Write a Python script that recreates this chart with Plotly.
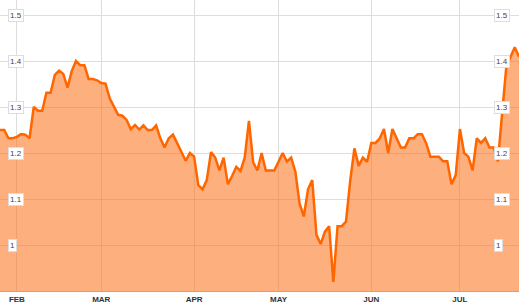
import pandas as pd
import plotly.graph_objects as go

# Trading days (NYSE 2012) shown on the chart
holidays = ["2012-02-20", "2012-04-06", "2012-05-28", "2012-07-04"]
dates = [d.strftime("%Y-%m-%d") for d in
         pd.bdate_range("2012-01-26", "2012-07-23", freq="C", holidays=holidays)]

values = [
    1.250, 1.250, 1.232, 1.232, 1.235, 1.241, 1.240, 1.232, 1.300, 1.292,
    1.292, 1.331, 1.331, 1.370, 1.379, 1.372, 1.342, 1.378, 1.400, 1.391,
    1.391, 1.361, 1.361, 1.358, 1.352, 1.351, 1.319, 1.300, 1.283, 1.281,
    1.272, 1.252, 1.261, 1.251, 1.260, 1.250, 1.250, 1.260, 1.232, 1.212,
    1.232, 1.240, 1.221, 1.202, 1.183, 1.200, 1.192, 1.130, 1.121, 1.141,
    1.202, 1.190, 1.162, 1.190, 1.132, 1.150, 1.170, 1.161, 1.190, 1.270,
    1.180, 1.162, 1.200, 1.162, 1.162, 1.162, 1.181, 1.200, 1.181, 1.190,
    1.159, 1.090, 1.062, 1.121, 1.141, 1.022, 1.002, 1.029, 1.041, 0.920,
    1.041, 1.041, 1.051, 1.140, 1.210, 1.172, 1.190, 1.181, 1.222, 1.222,
    1.232, 1.252, 1.200, 1.252, 1.232, 1.212, 1.212, 1.232, 1.232, 1.241,
    1.241, 1.221, 1.192, 1.192, 1.192, 1.182, 1.182, 1.132, 1.152, 1.252,
    1.200, 1.192, 1.162, 1.232, 1.222, 1.232, 1.212, 1.212, 1.182, 1.286,
    1.388, 1.409, 1.430, 1.409,
]

month_labels = ["FEB", "MAR", "APR", "MAY", "JUN", "JUL"]
month_codes = ["2012-02", "2012-03", "2012-04", "2012-05", "2012-06", "2012-07"]
y_ticks = [1.0, 1.1, 1.2, 1.3, 1.4, 1.5]
y_tick_labels = ["1", "1.1", "1.2", "1.3", "1.4", "1.5"]

n = min(len(dates), len(values))
dates = dates[:n]
values = values[:n]

tick_vals = []
for code in month_codes:
    for d in dates:
        if d.startswith(code):
            tick_vals.append(d)
            break

fig = go.Figure()
fig.add_trace(go.Scatter(
    x=dates, y=values, mode="lines",
    line=dict(color="#ff6600", width=2.5),
    fill="tozeroy", fillcolor="rgba(252,110,20,0.55)",
    hoverinfo="skip",
))

W, H = 519, 305
fig.update_layout(
    width=W, height=H,
    margin=dict(l=0, r=0, t=0, b=14),
    paper_bgcolor="white", plot_bgcolor="white",
    showlegend=False,
    font=dict(family="Liberation Sans, Arial, sans-serif"),
)
fig.update_xaxes(
    type="category", range=[0, n - 1],
    tickmode="array", tickvals=tick_vals, ticktext=month_labels,
    tickfont=dict(size=8, color="#333333", family="Liberation Sans, Arial, sans-serif", weight="bold"),
    showgrid=True, gridcolor="#dddddd", gridwidth=1,
    showline=True, linecolor="#aaaaaa", linewidth=1,
    ticks="", ticklen=0, zeroline=False,
)
fig.update_yaxes(
    range=[0.9, 1.5326],
    tickmode="array", tickvals=y_ticks, showticklabels=False,
    showgrid=True, gridcolor="#dddddd", gridwidth=1, zeroline=False,
)

for yv, lab in zip(y_ticks, y_tick_labels):
    for xp in (8 / W, 494 / W):
        fig.add_annotation(
            x=xp, xref="paper", y=yv, yref="y",
            text=lab, showarrow=False, xanchor="left", yanchor="middle",
            font=dict(size=8, color="#444444", family="Liberation Sans, Arial, sans-serif"),
            bgcolor="white", bordercolor="#dddddd", borderwidth=1, borderpad=1,
        )

fig.write_html("out.html")
